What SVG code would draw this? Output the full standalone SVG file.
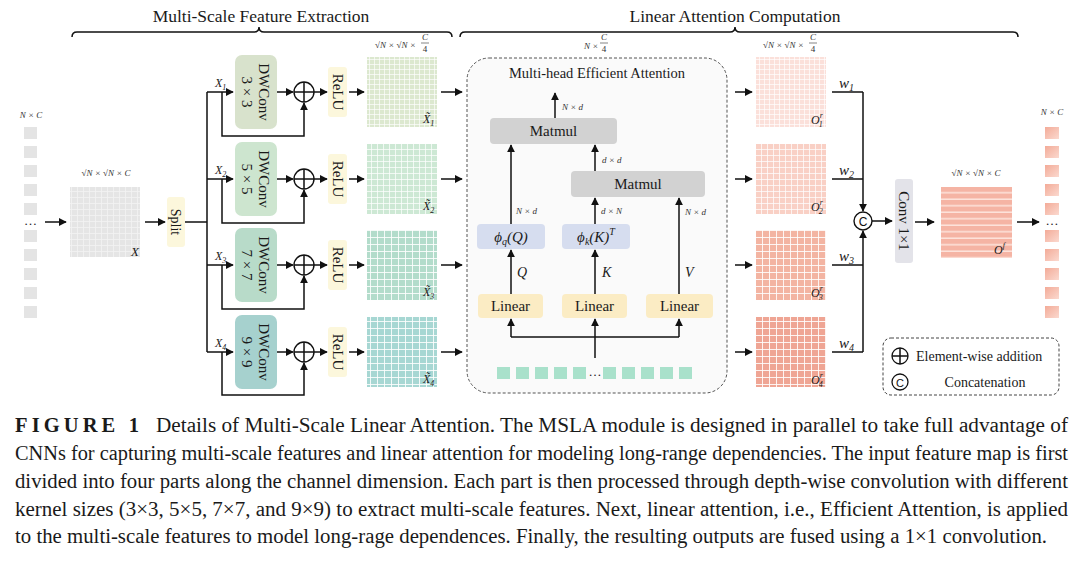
<svg xmlns="http://www.w3.org/2000/svg" width="1080" height="561" viewBox="0 0 1080 561">
<defs>
<style>
.ln{stroke:#111;stroke-width:1.5;fill:none}
.la{stroke:#111;stroke-width:1.5;fill:none;marker-end:url(#ah)}
.t{font-family:"Liberation Serif",serif;fill:#1a1a1a}
.mi{font-family:"Liberation Serif",serif;font-style:italic;fill:#1a1a1a}
.dim{font-family:"Liberation Serif",serif;font-style:italic;font-size:9px;fill:#333}
.dimu{font-family:"Liberation Serif",serif;font-size:9px;fill:#333}
.cap{font-family:"Liberation Serif",serif;font-size:20px;fill:#1a1a1a}
.sq{fill:#e4e4e4}
</style>
<marker id="ah" viewBox="0 0 10 10" refX="9" refY="5" markerWidth="8" markerHeight="8" markerUnits="userSpaceOnUse" orient="auto"><path d="M0,0 L10,5 L0,10 z" fill="#111"/></marker>
<pattern id="gw5" width="5" height="5" patternUnits="userSpaceOnUse"><path d="M4.5,0 V5 M0,4.5 H5" stroke="#fff" stroke-width="0.9" fill="none" opacity="0.75"/></pattern>
<pattern id="gw6" width="6" height="6" patternUnits="userSpaceOnUse"><path d="M5.5,0 V6 M0,5.5 H6" stroke="#fff" stroke-width="0.9" fill="none" opacity="0.8"/></pattern>
<pattern id="gw7" width="7" height="7" patternUnits="userSpaceOnUse"><path d="M6.5,0 V7 M0,6.5 H7" stroke="#fff" stroke-width="1" fill="none" opacity="0.85"/></pattern>
<pattern id="gx" width="6" height="6" patternUnits="userSpaceOnUse"><path d="M5.5,0 V6 M0,5.5 H6" stroke="#f3f3f3" stroke-width="0.8" fill="none"/></pattern>
<pattern id="stripe" x="941" y="187" width="71" height="6.5" patternUnits="userSpaceOnUse"><rect width="71" height="6.5" fill="#f5b4a4"/><rect y="5" width="71" height="1.5" fill="#fde3db"/></pattern>
<linearGradient id="og" x1="0" y1="0" x2="1" y2="1"><stop offset="0" stop-color="#f3ab98"/><stop offset="1" stop-color="#fbd9cf"/></linearGradient>
</defs>

<!-- section titles and braces -->
<g id="titles">
<text class="t" x="261" y="22" font-size="17.5" text-anchor="middle">Multi-Scale Feature Extraction</text>
<path class="ln" stroke-width="1.3" d="M72,37 Q72,32 77,32 H254 Q259,32 259,27 Q259,32 264,32 H447 Q452,32 452,37"/>
<text class="t" x="735" y="22" font-size="17.5" text-anchor="middle">Linear Attention Computation</text>
<path class="ln" stroke-width="1.3" d="M460,37 Q460,32 465,32 H730 Q735,32 735,27 Q735,32 740,32 H1013 Q1018,32 1018,37"/>
</g>

<!-- input tokens -->
<g id="input-tokens">
<text class="dim" x="31" y="118" text-anchor="middle">N × C</text>
<rect class="sq" x="24" y="127" width="13" height="12"/>
<rect class="sq" x="24" y="146" width="13" height="12"/>
<rect class="sq" x="24" y="165" width="13" height="12"/>
<rect class="sq" x="24" y="184" width="13" height="12"/>
<rect class="sq" x="24" y="203" width="13" height="12"/>
<text class="t" x="30.5" y="225" font-size="13" text-anchor="middle">…</text>
<rect class="sq" x="24" y="230" width="13" height="12"/>
<rect class="sq" x="24" y="249" width="13" height="12"/>
<rect class="sq" x="24" y="268" width="13" height="12"/>
<rect class="sq" x="24" y="287" width="13" height="12"/>
<rect class="sq" x="24" y="306" width="13" height="12"/>
</g>

<g id="input-map">
<text class="dim" x="106" y="176" text-anchor="middle">√N × √N × C</text>
<rect x="70" y="187" width="70" height="70" fill="#e5e5e5"/>
<rect x="70" y="187" width="70" height="70" fill="url(#gx)"/>
<text class="mi" x="131" y="256" font-size="13">X</text>
</g>

<g id="split">
<rect x="167" y="197" width="18" height="50" rx="3" fill="#fcf7dc"/>
<text class="t" font-size="14" text-anchor="middle" transform="translate(176,222) rotate(90)" y="5">Split</text>
</g>

<!-- DWConv branches -->
<g id="dwconv1">
<rect x="235" y="55" width="42" height="74" rx="7" fill="#d8e2cc"/>
<g transform="translate(256,92) rotate(90)"><text class="t" font-size="15" text-anchor="middle" y="-3">DWConv</text><text class="t" font-size="15" text-anchor="middle" y="14">3 × 3</text></g>
</g>
<g id="dwconv2">
<rect x="235" y="142" width="42" height="74" rx="7" fill="#cde5cf"/>
<g transform="translate(256,179) rotate(90)"><text class="t" font-size="15" text-anchor="middle" y="-3">DWConv</text><text class="t" font-size="15" text-anchor="middle" y="14">5 × 5</text></g>
</g>
<g id="dwconv3">
<rect x="235" y="228" width="42" height="74" rx="7" fill="#b8dbc9"/>
<g transform="translate(256,265) rotate(90)"><text class="t" font-size="15" text-anchor="middle" y="-3">DWConv</text><text class="t" font-size="15" text-anchor="middle" y="14">7 × 7</text></g>
</g>
<g id="dwconv4">
<rect x="235" y="315" width="42" height="74" rx="7" fill="#a6d1ce"/>
<g transform="translate(256,352) rotate(90)"><text class="t" font-size="15" text-anchor="middle" y="-3">DWConv</text><text class="t" font-size="15" text-anchor="middle" y="14">9 × 9</text></g>
</g>

<!-- addition circles -->
<g id="add1"><circle cx="304" cy="92" r="10" fill="#fff" stroke="#111" stroke-width="1.4"/><path class="ln" stroke-width="1.3" d="M294,92 H314 M304,82 V102"/></g>
<g id="add2"><circle cx="304" cy="179" r="10" fill="#fff" stroke="#111" stroke-width="1.4"/><path class="ln" stroke-width="1.3" d="M294,179 H314 M304,169 V189"/></g>
<g id="add3"><circle cx="304" cy="265" r="10" fill="#fff" stroke="#111" stroke-width="1.4"/><path class="ln" stroke-width="1.3" d="M294,265 H314 M304,255 V275"/></g>
<g id="add4"><circle cx="304" cy="352" r="10" fill="#fff" stroke="#111" stroke-width="1.4"/><path class="ln" stroke-width="1.3" d="M294,352 H314 M304,342 V362"/></g>

<!-- ReLU -->
<g id="relu1"><rect x="328" y="67" width="19" height="50" rx="3" fill="#fcf7dc"/><text class="t" font-size="15" text-anchor="middle" transform="translate(337.5,92) rotate(90)" y="5">ReLU</text></g>
<g id="relu2"><rect x="328" y="154" width="19" height="50" rx="3" fill="#fcf7dc"/><text class="t" font-size="15" text-anchor="middle" transform="translate(337.5,179) rotate(90)" y="5">ReLU</text></g>
<g id="relu3"><rect x="328" y="240" width="19" height="50" rx="3" fill="#fcf7dc"/><text class="t" font-size="15" text-anchor="middle" transform="translate(337.5,265) rotate(90)" y="5">ReLU</text></g>
<g id="relu4"><rect x="328" y="327" width="19" height="50" rx="3" fill="#fcf7dc"/><text class="t" font-size="15" text-anchor="middle" transform="translate(337.5,352) rotate(90)" y="5">ReLU</text></g>

<!-- multi-scale feature maps -->
<g id="xt1">
<text class="dim" x="375" y="48">√N × √N ×</text>
<text class="dim" x="425" y="40" font-size="8" text-anchor="middle">C</text><line x1="421" y1="43" x2="429" y2="43" stroke="#333" stroke-width="0.6"/><text class="dimu" x="425" y="52" font-size="8" text-anchor="middle">4</text>
<rect x="367" y="57" width="70" height="70" fill="#dce8cf"/><rect x="367" y="57" width="70" height="70" fill="url(#gw5)"/>
<text class="mi" x="423" y="123" font-size="12">X̃<tspan font-size="8" dy="3">1</tspan></text>
</g>
<g id="xt2">
<rect x="367" y="144" width="70" height="70" fill="#cde8d4"/><rect x="367" y="144" width="70" height="70" fill="url(#gw6)"/>
<text class="mi" x="423" y="210" font-size="12">X̃<tspan font-size="8" dy="3">2</tspan></text>
</g>
<g id="xt3">
<rect x="367" y="230" width="70" height="70" fill="#b3dccb"/><rect x="367" y="230" width="70" height="70" fill="url(#gw7)"/>
<text class="mi" x="423" y="296" font-size="12">X̃<tspan font-size="8" dy="3">3</tspan></text>
</g>
<g id="xt4">
<rect x="367" y="317" width="70" height="70" fill="#a7d7d3"/><rect x="367" y="317" width="70" height="70" fill="url(#gw7)"/>
<text class="mi" x="423" y="383" font-size="12">X̃<tspan font-size="8" dy="3">4</tspan></text>
</g>

<!-- attention block -->
<g id="attention">
<text class="dim" x="584" y="49">N ×</text>
<text class="dim" x="604" y="40" font-size="8" text-anchor="middle">C</text><line x1="600" y1="43" x2="608" y2="43" stroke="#333" stroke-width="0.6"/><text class="dimu" x="604" y="52" font-size="8" text-anchor="middle">4</text>
<rect x="467" y="58" width="260" height="335" rx="22" fill="#fafafa" stroke="#555" stroke-width="1" stroke-dasharray="3,2"/>
<text class="t" x="597" y="78" font-size="14.5" text-anchor="middle">Multi-head Efficient Attention</text>
</g>
<g id="matmul1"><rect x="490" y="118" width="127" height="26" rx="4" fill="#d2d2d2"/><text class="t" x="553.5" y="136" font-size="15" text-anchor="middle">Matmul</text></g>
<g id="matmul2"><rect x="571" y="171" width="134" height="26" rx="4" fill="#d2d2d2"/><text class="t" x="638" y="189" font-size="15" text-anchor="middle">Matmul</text></g>
<g id="phiq"><rect x="477" y="224" width="68" height="25" rx="4" fill="#d6ddef"/><text class="mi" x="511" y="242" font-size="15" text-anchor="middle">ϕ<tspan font-size="10" dy="3">q</tspan><tspan dy="-3">(Q)</tspan></text></g>
<g id="phik"><rect x="562" y="224" width="68" height="25" rx="4" fill="#d6ddef"/><text class="mi" x="596" y="242" font-size="15" text-anchor="middle">ϕ<tspan font-size="10" dy="3">k</tspan><tspan dy="-3">(K)</tspan><tspan font-size="10" dy="-7">T</tspan></text></g>
<g id="linear1"><rect x="478" y="294" width="65" height="24" rx="4" fill="#fbecc4"/><text class="t" x="510.5" y="311" font-size="15" text-anchor="middle">Linear</text></g>
<g id="linear2"><rect x="562" y="294" width="65" height="24" rx="4" fill="#fbecc4"/><text class="t" x="594.5" y="311" font-size="15" text-anchor="middle">Linear</text></g>
<g id="linear3"><rect x="646" y="294" width="67" height="24" rx="4" fill="#fbecc4"/><text class="t" x="679.5" y="311" font-size="15" text-anchor="middle">Linear</text></g>
<g id="tokens">
<rect x="497" y="367" width="13" height="12" fill="#a9e1cb"/>
<rect x="516" y="367" width="13" height="12" fill="#a9e1cb"/>
<rect x="535" y="367" width="13" height="12" fill="#a9e1cb"/>
<rect x="554" y="367" width="13" height="12" fill="#a9e1cb"/>
<rect x="573" y="367" width="13" height="12" fill="#a9e1cb"/>
<text class="t" x="595" y="376" font-size="13" text-anchor="middle">…</text>
<rect x="603" y="367" width="13" height="12" fill="#a9e1cb"/>
<rect x="622" y="367" width="13" height="12" fill="#a9e1cb"/>
<rect x="641" y="367" width="13" height="12" fill="#a9e1cb"/>
<rect x="660" y="367" width="13" height="12" fill="#a9e1cb"/>
<rect x="679" y="367" width="13" height="12" fill="#a9e1cb"/>
</g>

<!-- attention outputs -->
<g id="or1">
<text class="dim" x="763" y="48">√N × √N ×</text>
<text class="dim" x="813" y="40" font-size="8" text-anchor="middle">C</text><line x1="809" y1="43" x2="817" y2="43" stroke="#333" stroke-width="0.6"/><text class="dimu" x="813" y="52" font-size="8" text-anchor="middle">4</text>
<rect x="756" y="57" width="70" height="70" fill="#fbe0da"/><rect x="756" y="57" width="70" height="70" fill="url(#gw5)"/>
<text class="mi" x="811" y="124" font-size="12">O<tspan font-size="8" dy="-6">r</tspan><tspan font-size="8" dx="-4" dy="9">1</tspan></text>
</g>
<g id="or2">
<rect x="756" y="144" width="70" height="70" fill="#f9d0c5"/><rect x="756" y="144" width="70" height="70" fill="url(#gw6)"/>
<text class="mi" x="811" y="211" font-size="12">O<tspan font-size="8" dy="-6">r</tspan><tspan font-size="8" dx="-4" dy="9">2</tspan></text>
</g>
<g id="or3">
<rect x="756" y="230" width="70" height="70" fill="#f3b4a2"/><rect x="756" y="230" width="70" height="70" fill="url(#gw7)"/>
<text class="mi" x="811" y="297" font-size="12">O<tspan font-size="8" dy="-6">r</tspan><tspan font-size="8" dx="-4" dy="9">3</tspan></text>
</g>
<g id="or4">
<rect x="756" y="317" width="70" height="70" fill="#efa594"/><rect x="756" y="317" width="70" height="70" fill="url(#gw7)"/>
<text class="mi" x="811" y="384" font-size="12">O<tspan font-size="8" dy="-6">r</tspan><tspan font-size="8" dx="-4" dy="9">4</tspan></text>
</g>

<g id="concat"><circle cx="863" cy="221" r="9" fill="#fff" stroke="#111" stroke-width="1.4"/><text x="863" y="225.5" font-family="'Liberation Sans',sans-serif" font-size="12" text-anchor="middle" fill="#111">C</text></g>
<g id="conv1x1"><rect x="895" y="179" width="18" height="84" rx="3" fill="#e3e3e9"/><text class="t" font-size="15" text-anchor="middle" transform="translate(904,221) rotate(90)" y="5">Conv 1×1</text></g>
<g id="of">
<text class="dim" x="976" y="176" text-anchor="middle">√N × √N × C</text>
<rect x="941" y="187" width="71" height="71" fill="url(#stripe)"/>
<text class="mi" x="994" y="254" font-size="12">O<tspan font-size="8" dy="-6">f</tspan></text>
</g>
<g id="output-tokens">
<text class="dim" x="1052" y="115" text-anchor="middle">N × C</text>
<rect x="1045" y="127" width="14" height="12" fill="url(#og)"/>
<rect x="1045" y="146" width="14" height="12" fill="url(#og)"/>
<rect x="1045" y="165" width="14" height="12" fill="url(#og)"/>
<rect x="1045" y="184" width="14" height="12" fill="url(#og)"/>
<rect x="1045" y="203" width="14" height="12" fill="url(#og)"/>
<text class="t" x="1052" y="225" font-size="13" text-anchor="middle">…</text>
<rect x="1045" y="230" width="14" height="12" fill="url(#og)"/>
<rect x="1045" y="249" width="14" height="12" fill="url(#og)"/>
<rect x="1045" y="268" width="14" height="12" fill="url(#og)"/>
<rect x="1045" y="287" width="14" height="12" fill="url(#og)"/>
<rect x="1045" y="306" width="14" height="12" fill="url(#og)"/>
</g>

<g id="legend">
<rect x="883" y="338" width="176" height="57" rx="8" fill="#fff" stroke="#444" stroke-width="1" stroke-dasharray="3,2"/>
<circle cx="900" cy="356" r="8" fill="none" stroke="#111" stroke-width="1.3"/><path class="ln" stroke-width="1.2" d="M892,356 H908 M900,348 V364"/>
<text class="t" x="916" y="361" font-size="14">Element-wise addition</text>
<circle cx="900" cy="382" r="8" fill="none" stroke="#111" stroke-width="1.3"/><text x="900" y="386.5" font-family="'Liberation Sans',sans-serif" font-size="11" text-anchor="middle" fill="#111">C</text>
<text class="t" x="985" y="387" font-size="14" text-anchor="middle">Concatenation</text>
</g>

<!-- connectors -->
<g id="connectors">
<path class="la" d="M45,222 H66"/>
<path class="la" d="M145,222 H165"/>
<path class="ln" d="M185,222 H207 M207,92 V352"/>
<path class="la" d="M207,92 H233"/>
<path class="la" d="M207,179 H233"/>
<path class="la" d="M207,265 H233"/>
<path class="la" d="M207,352 H233"/>
<path class="la" d="M222,92 V136 H304 V103"/>
<path class="la" d="M222,179 V223 H304 V190"/>
<path class="la" d="M222,265 V309 H304 V276"/>
<path class="la" d="M222,352 V395 H304 V363"/>
<path class="la" d="M277,92 H293"/><path class="la" d="M277,179 H293"/><path class="la" d="M277,265 H293"/><path class="la" d="M277,352 H293"/>
<path class="la" d="M314,92 H327"/><path class="la" d="M314,179 H327"/><path class="la" d="M314,265 H327"/><path class="la" d="M314,352 H327"/>
<path class="la" d="M349,92 H364"/><path class="la" d="M349,179 H364"/><path class="la" d="M349,265 H364"/><path class="la" d="M349,352 H364"/>
<path class="la" d="M441,92 H462"/><path class="la" d="M441,179 H462"/><path class="la" d="M441,265 H462"/><path class="la" d="M441,352 H462"/>
<path class="la" d="M555,118 V93"/>
<path class="la" d="M595,171 V145"/>
<path class="la" d="M511,224 V145"/>
<path class="la" d="M595,224 V198"/>
<path class="la" d="M679,294 V198"/>
<path class="la" d="M511,294 V250"/>
<path class="la" d="M595,294 V250"/>
<path class="ln" d="M511,337 H679"/>
<path class="la" d="M511,337 V319"/>
<path class="la" d="M679,337 V319"/>
<path class="la" d="M595,358 V319"/>
<path class="la" d="M735,92 H752"/><path class="la" d="M735,179 H752"/><path class="la" d="M735,265 H752"/><path class="la" d="M735,352 H752"/>
<path class="ln" d="M832,92 H863 M832,179 H863 M832,265 H863 M832,352 H863"/>
<path class="la" d="M863,92 V211"/>
<path class="la" d="M863,352 V231"/>
<path class="la" d="M872,221 H892"/>
<path class="la" d="M915,222 H934"/>
<path class="la" d="M1017,222 H1039"/>
</g>

<g id="connector-labels">
<text class="mi" x="215" y="87" font-size="12">X<tspan font-size="8" dy="3">1</tspan></text>
<text class="mi" x="215" y="174" font-size="12">X<tspan font-size="8" dy="3">2</tspan></text>
<text class="mi" x="215" y="260" font-size="12">X<tspan font-size="8" dy="3">3</tspan></text>
<text class="mi" x="215" y="347" font-size="12">X<tspan font-size="8" dy="3">4</tspan></text>
<text class="dim" x="562" y="110">N × d</text>
<text class="dim" x="602" y="163">d × d</text>
<text class="dim" x="516" y="214">N × d</text>
<text class="dim" x="601" y="214">d × N</text>
<text class="dim" x="685" y="215">N × d</text>
<text class="mi" x="517" y="277" font-size="14">Q</text>
<text class="mi" x="602" y="277" font-size="14">K</text>
<text class="mi" x="685" y="277" font-size="14">V</text>
<text class="mi" x="839" y="88" font-size="15">w<tspan font-size="10" dy="3">1</tspan></text>
<text class="mi" x="839" y="175" font-size="15">w<tspan font-size="10" dy="3">2</tspan></text>
<text class="mi" x="839" y="261" font-size="15">w<tspan font-size="10" dy="3">3</tspan></text>
<text class="mi" x="839" y="348" font-size="15">w<tspan font-size="10" dy="3">4</tspan></text>
</g>

<!-- caption -->
<g id="caption">
<text class="cap" x="15" y="432" font-weight="bold" letter-spacing="4" font-size="19" textLength="128" lengthAdjust="spacingAndGlyphs">FIGURE 1</text>
<text class="cap" x="156" y="432" textLength="912" lengthAdjust="spacingAndGlyphs">Details of Multi-Scale Linear Attention. The MSLA module is designed in parallel to take full advantage of</text>
<text class="cap" x="15" y="460" textLength="1053" lengthAdjust="spacingAndGlyphs">CNNs for capturing multi-scale features and linear attention for modeling long-range dependencies. The input feature map is first</text>
<text class="cap" x="15" y="488" textLength="1053" lengthAdjust="spacingAndGlyphs">divided into four parts along the channel dimension. Each part is then processed through depth-wise convolution with different</text>
<text class="cap" x="15" y="516" textLength="1053" lengthAdjust="spacingAndGlyphs">kernel sizes (3×3, 5×5, 7×7, and 9×9) to extract multi-scale features. Next, linear attention, i.e., Efficient Attention, is applied</text>
<text class="cap" x="15" y="543" textLength="1032" lengthAdjust="spacingAndGlyphs">to the multi-scale features to model long-rage dependences. Finally, the resulting outputs are fused using a 1×1 convolution.</text>
</g>
</svg>
